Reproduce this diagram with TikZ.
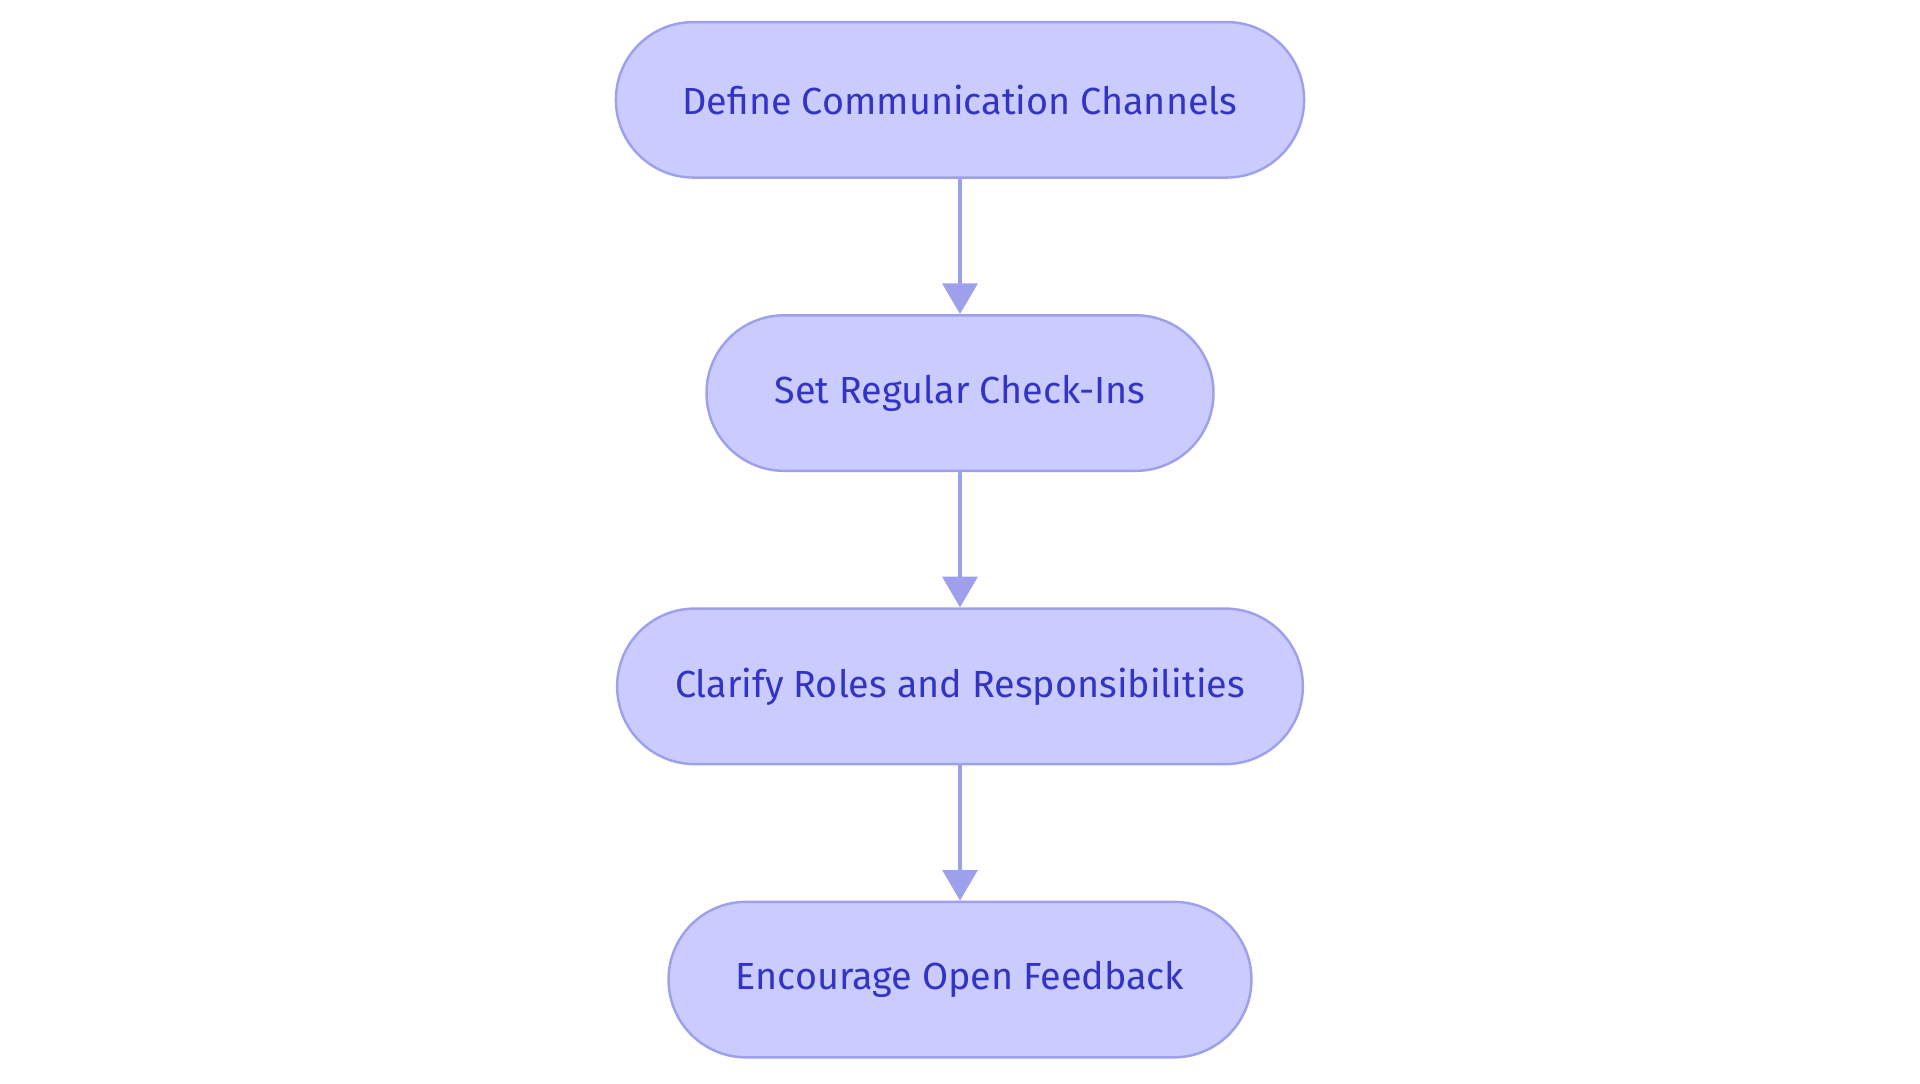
\documentclass[tikz,border=0pt]{standalone}
\usepackage{fontspec}
\setmainfont{Fira Sans}
\usetikzlibrary{arrows.meta}
\definecolor{boxfill}{HTML}{CACCFF}
\definecolor{boxline}{HTML}{9EA0EE}
\definecolor{boxtext}{HTML}{3333C4}
\begin{document}
\begin{tikzpicture}[
stage/.style={rectangle, draw=boxline, line width=1.2pt, fill=boxfill, text=boxtext,
rounded corners=38pt, minimum height=76.2pt, font=\fontsize{18.5}{22}\selectfont},
flow/.style={-{Triangle[width=17pt,length=15pt]}, draw=boxline, line width=2pt}
]
\useasboundingbox (0,0) rectangle (940.8pt,-530.7pt);

\node[stage, minimum width=337.2pt] (channels) at (470.4pt,-48.9pt) {Define Communication Channels};
\node[stage, minimum width=248.4pt] (checkins) at (470.4pt,-192.6pt) {Set Regular Check-Ins};
\node[stage, minimum width=336pt] (roles) at (470.4pt,-336.3pt) {Clarify Roles and Responsibilities};
\node[stage, minimum width=285.6pt] (feedback) at (470.4pt,-480pt) {Encourage Open Feedback};

\draw[flow] (channels)--(checkins);
\draw[flow] (checkins)--(roles);
\draw[flow] (roles)--(feedback);
\end{tikzpicture}
\end{document}
